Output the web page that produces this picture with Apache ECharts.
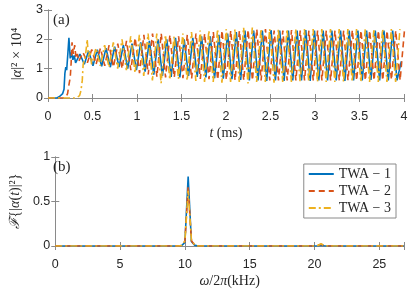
<!DOCTYPE html>
<html><head><meta charset="utf-8">
<script src="https://cdn.jsdelivr.net/npm/echarts@6/dist/echarts.min.js"></script>
<style>html,body{margin:0;padding:0;background:#fff}#c{width:415px;height:290px}</style>
</head><body><div id="c"></div>
<script>
// ---- Panel (a): |alpha|^2 x 10^4 vs t (ms) ----
const seriesNames = ['TWA \u2212 1', 'TWA \u2212 2', 'TWA \u2212 3'];
const halfPeriod = 0.0488; // ms, from 10.25 kHz oscillation

// initial rise (t, value)
const rise1T = [0, 0.10, 0.13, 0.165, 0.18, 0.19, 0.20, 0.21, 0.225, 0.235, 0.25, 0.265, 0.28, 0.295];
const rise1V = [0, 0, 0.05, 0.15, 0.3, 0.85, 1.05, 0.95, 1.6, 2.05, 1.35, 1.55, 1.3, 1.45];
const osc1Start = 0.31;
const troughs1 = [1.2,1.15,1.1,1.08,1.05,1.05,1.0,0.95,0.9,0.8,0.75,0.72,0.7,0.75,0.72,0.7,0.68,0.66,0.64,0.62,0.6,0.6,0.58,0.6,0.58,0.6,0.6,0.58,0.6,0.6,0.6,0.58,0.6,0.6,0.62,0.6,0.6,0.6];
const peaks1 = [1.5,1.6,1.65,1.7,1.75,1.8,1.85,1.9,1.95,2.0,2.0,2.05,2.0,2.05,2.1,2.1,2.15,2.2,2.25,2.3,2.3,2.3,2.32,2.3,2.3,2.3,2.32,2.3,2.3,2.3,2.3,2.3,2.3,2.3,2.3,2.3,2.3,1.25];

const rise2T = [0, 0.17, 0.20, 0.22, 0.235, 0.25, 0.26, 0.27, 0.285, 0.30, 0.315, 0.33];
const rise2V = [0, 0, 0.03, 0.15, 0.45, 0.7, 1.2, 1.9, 1.5, 1.8, 1.35, 1.5];
const osc2Start = 0.345;
const troughs2 = [1.25,1.2,1.15,1.1,1.05,1.0,0.95,0.85,0.8,0.72,0.7,0.7,0.68,0.66,0.65,0.64,0.62,0.62,0.6,0.6,0.6,0.6,0.6,0.6,0.6,0.6,0.6,0.6,0.6,0.6,0.6,0.6,0.6,0.6,0.6,0.6,0.62,0.6];
const peaks2 = [1.55,1.65,1.7,1.8,1.85,1.95,2.05,2.15,2.2,2.2,2.15,2.1,2.15,2.2,2.2,2.25,2.3,2.3,2.3,2.32,2.35,2.35,2.3,2.3,2.32,2.3,2.3,2.3,2.3,2.3,2.3,2.32,2.3,2.3,2.3,2.3,2.3,2.3];

const rise3T = [0, 0.30, 0.33, 0.355, 0.37, 0.385, 0.395, 0.41, 0.425, 0.44, 0.455, 0.47];
const rise3V = [0, 0, 0.03, 0.08, 0.25, 0.6, 1.15, 1.3, 1.55, 2.0, 1.4, 1.6];
const osc3Start = 0.49;
const troughs3 = [1.15,1.1,1.05,1.0,0.95,0.85,0.75,0.6,0.5,0.62,0.65,0.6,0.58,0.55,0.55,0.52,0.55,0.55,0.5,0.55,0.55,0.52,0.55,0.55,0.55,0.55,0.55,0.55,0.55,0.55,0.55,0.55,0.55,0.55,0.55,0.55];
const peaks3 = [1.7,1.8,1.9,2.0,2.1,2.15,2.2,2.2,2.15,2.1,2.2,2.25,2.3,2.3,2.35,2.35,2.35,2.4,2.4,2.35,2.35,2.35,2.35,2.35,2.35,2.35,2.35,2.35,2.35,2.35,2.35,2.35,2.35,2.35,2.35,2.35];

const xTicksA = [0, 0.5, 1, 1.5, 2, 2.5, 3, 3.5, 4];
const yTicksA = [0, 1, 2, 3];

// ---- Panel (b): spectrum ----
const freq = [0, 9.5, 9.75, 10.0, 10.25, 10.5, 10.75, 11.0, 20.0, 20.25, 20.5, 20.75, 21.0, 26.9];
const spec1 = [0, 0, 0.005, 0.04, 0.78, 0.05, 0.01, 0, 0, 0.003, 0.01, 0.003, 0, 0];
const spec2 = [0, 0, 0.005, 0.05, 0.67, 0.06, 0.01, 0, 0, 0.005, 0.02, 0.005, 0, 0];
const spec3 = [0, 0, 0.005, 0.06, 0.62, 0.07, 0.012, 0, 0, 0.006, 0.025, 0.006, 0, 0];
const xTicksB = [0, 5, 10, 15, 20, 25];
const yTicksB = [0, 0.5, 1];

function build(rT, rV, start, troughs, peaks) {
  const d = rT.map((t, i) => [t, rV[i]]);
  for (let i = 0; i < troughs.length; i++) {
    d.push([start + 2 * i * halfPeriod, troughs[i]]);
    if (i < peaks.length) d.push([start + (2 * i + 1) * halfPeriod, peaks[i]]);
  }
  return d;
}
const dataA = [
  build(rise1T, rise1V, osc1Start, troughs1, peaks1),
  build(rise2T, rise2V, osc2Start, troughs2, peaks2),
  build(rise3T, rise3V, osc3Start, troughs3, peaks3)
];
const dataB = [spec1, spec2, spec3].map(s => freq.map((f, i) => [f, s[i]]));

const colors = ['#0072BD', '#D95319', '#EDB120'];
const dashes = ['solid', [6, 4], [7, 3, 2, 3]];
const axisColor = '#8a8a8a';
const textColor = '#262626';
const serif = '"Liberation Serif", "DejaVu Serif", serif';
const sans = '"Liberation Sans", Arial, sans-serif';

function xAx(grid, min, max, interval, ticks, name, pos, show) {
  return {
    type: 'value', gridIndex: grid, min, max, interval, position: pos,
    name: show ? name : '', nameLocation: 'middle', nameGap: 28,
    nameTextStyle: { fontFamily: serif, fontSize: 14, color: textColor,
      rich: { i: { fontFamily: serif, fontSize: 14, fontStyle: 'italic', color: textColor } } },
    axisLine: { show: true, lineStyle: { color: axisColor, width: 1 } },
    axisTick: { show: true, inside: true, length: 4, lineStyle: { color: axisColor } },
    axisLabel: { show: show, fontFamily: sans, fontSize: 12.5, color: textColor, margin: 12,
      formatter: v => ticks.some(t => Math.abs(t - v) < 1e-9) ? String(v) : '' },
    splitLine: { show: false }
  };
}
function yAx(grid, min, max, interval, ticks, name, pos, show, gap, fs) {
  return {
    type: 'value', gridIndex: grid, min, max, interval, position: pos,
    name: show ? name : '', nameLocation: 'middle', nameGap: gap || 20,
    nameTextStyle: { fontFamily: serif, fontSize: fs || 14, color: textColor,
      rich: { i: { fontFamily: serif, fontSize: fs || 14, fontStyle: 'italic', color: textColor },
              f: { fontFamily: '"DejaVu Serif", serif', fontSize: fs || 14, fontStyle: 'italic', color: textColor } } },
    axisLine: { show: true, lineStyle: { color: axisColor, width: 1 } },
    axisTick: { show: true, inside: true, length: 4, lineStyle: { color: axisColor } },
    axisLabel: { show: show, fontFamily: sans, fontSize: 12.5, color: textColor, margin: 5,
      formatter: v => ticks.some(t => Math.abs(t - v) < 1e-9) ? String(v) : '' },
    splitLine: { show: false }
  };
}

const series = [];
dataA.forEach((d, i) => series.push({
  name: seriesNames[i], type: 'line', xAxisIndex: 0, yAxisIndex: 0, data: d,
  symbol: 'none', animation: false, clip: true,
  lineStyle: { color: colors[i], width: 1.6, type: dashes[i] }, itemStyle: { color: colors[i] }
}));
dataB.forEach((d, i) => series.push({
  name: seriesNames[i], type: 'line', xAxisIndex: 2, yAxisIndex: 2, data: d,
  symbol: 'none', animation: false, clip: true,
  lineStyle: { color: colors[i], width: 1.6, type: dashes[i] }, itemStyle: { color: colors[i] }
}));

const chart = echarts.init(document.getElementById('c'), null, { renderer: 'canvas' });
chart.setOption({
  backgroundColor: '#fff',
  animation: false,
  grid: [
    { left: 48, right: 11, top: 10, height: 88 },
    { left: 48, right: 11, top: 157, height: 89 }
  ],
  xAxis: [
    xAx(0, 0, 4, 0.5, xTicksA, '{i|t} (ms)', 'bottom', true),
    xAx(0, 0, 4, 0.5, xTicksA, '', 'top', false),
    xAx(1, 0, 26.9, 5, xTicksB, '{i|\u03c9}/2{i|\u03c0}(kHz)', 'bottom', true),
    xAx(1, 0, 26.9, 5, xTicksB, '', 'top', false)
  ],
  yAxis: [
    yAx(0, 0, 3, 1, yTicksA, '|{i|\u03b1}|\u00b2 \u00d7 10\u2074', 'left', true, 20, 14.5),
    yAx(0, 0, 3, 1, yTicksA, '', 'right', false),
    yAx(1, 0, 1, 0.5, yTicksB, '{f|\u2131}{|{i|\u03b1}({i|t})|\u00b2}', 'left', true, 28, 14),
    yAx(1, 0, 1, 0.5, yTicksB, '', 'right', false)
  ],
  title: [
    { text: '(a)', left: 53, top: 13, padding: 0, textStyle: { fontFamily: serif, fontSize: 15, fontWeight: 'normal', color: textColor } },
    { text: '(b)', left: 53, top: 160, padding: 0, textStyle: { fontFamily: serif, fontSize: 15, fontWeight: 'normal', color: textColor } }
  ],
  legend: {
    data: seriesNames, orient: 'vertical', right: 19, top: 164,
    backgroundColor: '#fff', borderColor: '#8a8a8a', borderWidth: 1, borderRadius: 0,
    padding: [3, 5, 3, 4], itemGap: 3, itemWidth: 25, itemHeight: 14,
    itemStyle: { opacity: 0 },
    textStyle: { fontFamily: serif, fontSize: 14, color: textColor, padding: [0, 0, 0, 0] }
  },
  series
});
</script></body></html>
